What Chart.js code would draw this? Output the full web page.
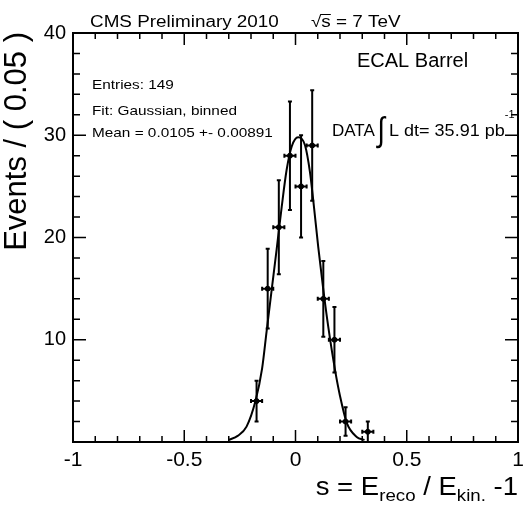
<!DOCTYPE html>
<html lang="en">
<head>
    <meta charset="UTF-8">
    <title>ECAL Barrel energy scale</title>
    <script src="https://cdn.jsdelivr.net/npm/chart.js"></script>
    <style>
        body { margin: 0; background: #ffffff; }
        canvas { display: block; }
    </style>
</head>
<body>
    <canvas id="scaleChart" width="524" height="517"></canvas>

    <script>
        // histogram bins (width 0.05) and counts
        const binCenters = [-0.175, -0.125, -0.075, -0.025, 0.025, 0.075, 0.125, 0.175, 0.225, 0.325];
        const counts     = [4, 15, 21, 28, 25, 29, 14, 10, 2, 1];
        const countErrs  = [2.0, 3.9, 4.6, 5.3, 5.0, 5.4, 3.7, 3.2, 1.4, 1.0];
        const binHalf = 0.025;

        // gaussian fit curve
        const curveX = [-0.30, -0.26, -0.22, -0.18, -0.15, -0.13, -0.107, -0.085, -0.062, -0.04, -0.017, 0.012,
                        0.043, 0.065, 0.08, 0.102, 0.125, 0.147, 0.178, 0.20, 0.23, 0.275, 0.31];
        const curveY = [0.2, 0.6, 1.5, 4.0, 7.2, 10.8, 14.9, 18.8, 23.0, 26.6, 28.9, 29.8,
                        29.0, 26.4, 23.6, 19.1, 14.9, 11.3, 7.0, 4.5, 1.9, 0.5, 0.2];

        const xTicks = [-1, -0.5, 0, 0.5, 1];
        const yTicks = [10, 20, 30, 40];

        const FONT = '"Liberation Sans", Arial, sans-serif';
        Chart.defaults.font.family = FONT;
        Chart.defaults.color = '#000';

        function text(ctx, s, x, y, size, sx) {
            ctx.save();
            ctx.font = size + 'px ' + FONT;
            ctx.translate(x, y);
            ctx.scale(sx || 1, 1);
            ctx.textAlign = 'left';
            ctx.textBaseline = 'alphabetic';
            ctx.fillText(s, 0, 0);
            const w = ctx.measureText(s).width * (sx || 1);
            ctx.restore();
            return w;
        }
        function textWidth(ctx, s, size, sx) {
            ctx.save();
            ctx.font = size + 'px ' + FONT;
            const w = ctx.measureText(s).width * (sx || 1);
            ctx.restore();
            return w;
        }

        const rootStyle = {
            id: 'rootStyle',
            afterDatasetsDraw(chart) {
                const ctx = chart.ctx, xs = chart.scales.x, ys = chart.scales.y;
                ctx.save();
                ctx.strokeStyle = '#000';
                ctx.lineWidth = 2;
                binCenters.forEach((c, i) => {
                    const px = xs.getPixelForValue(c);
                    const py = ys.getPixelForValue(counts[i]);
                    const x0 = xs.getPixelForValue(c - binHalf), x1 = xs.getPixelForValue(c + binHalf);
                    const y0 = ys.getPixelForValue(Math.max(counts[i] - countErrs[i], 0));
                    const y1 = ys.getPixelForValue(counts[i] + countErrs[i]);
                    ctx.beginPath();
                    ctx.moveTo(x0, py); ctx.lineTo(x1, py);
                    ctx.moveTo(px, y0); ctx.lineTo(px, y1);
                    // small end caps
                    ctx.moveTo(x0, py - 2); ctx.lineTo(x0, py + 2);
                    ctx.moveTo(x1, py - 2); ctx.lineTo(x1, py + 2);
                    ctx.moveTo(px - 2, y0); ctx.lineTo(px + 2, y0);
                    ctx.moveTo(px - 2, y1); ctx.lineTo(px + 2, y1);
                    ctx.stroke();
                });
                ctx.restore();
            },
            afterDraw(chart) {
                const ctx = chart.ctx, a = chart.chartArea;
                const xs = chart.scales.x, ys = chart.scales.y;
                ctx.save();
                ctx.strokeStyle = '#000';
                ctx.fillStyle = '#000';

                // frame
                ctx.lineWidth = 2;
                ctx.strokeRect(a.left, a.top, a.right - a.left, a.bottom - a.top);

                // inward ticks on all four sides
                ctx.lineWidth = 1.5;
                ctx.beginPath();
                for (let k = 0; k <= 20; k++) {
                    const v = -1 + k * 0.1;
                    const px = xs.getPixelForValue(v);
                    const len = k % 5 === 0 ? 12 : 6;
                    ctx.moveTo(px, a.bottom); ctx.lineTo(px, a.bottom - len);
                    ctx.moveTo(px, a.top); ctx.lineTo(px, a.top + len);
                }
                for (let k = 0; k <= 20; k++) {
                    const py = ys.getPixelForValue(k * 2);
                    const len = k % 5 === 0 ? 13 : 7;
                    ctx.moveTo(a.left, py); ctx.lineTo(a.left + len, py);
                    ctx.moveTo(a.right, py); ctx.lineTo(a.right - len, py);
                }
                ctx.stroke();

                // y axis title
                ctx.save();
                ctx.font = '31px ' + FONT;
                ctx.translate(26, 32);
                ctx.rotate(-Math.PI / 2);
                ctx.textAlign = 'right';
                ctx.fillText('Events / ( 0.05 )', 0, 0);
                ctx.restore();

                // x axis title with subscripts, right aligned to the frame
                const big = 25, small = 17, sx = 1.1;
                const parts = [['s = E', big, 0], ['reco', small, 6], [' / E', big, 0], ['kin.', small, 6], [' -1', big, 0]];
                let total = 0;
                parts.forEach(p => total += textWidth(ctx, p[0], p[1], sx));
                let cx = 518 - total;
                parts.forEach(p => cx += text(ctx, p[0], cx, 495 + p[2], p[1], sx));

                // header
                text(ctx, 'CMS Preliminary 2010', 90, 27, 16, 1.18);
                const wRoot = text(ctx, '\u221A', 311, 27, 16, 1.18);
                const wS = text(ctx, 's', 311 + wRoot, 27, 16, 1.18);
                ctx.lineWidth = 1;
                ctx.beginPath();
                ctx.moveTo(311 + wRoot - 1, 14.5); ctx.lineTo(311 + wRoot + wS, 14.5);
                ctx.stroke();
                text(ctx, ' = 7 TeV', 311 + wRoot + wS, 27, 16, 1.18);

                // labels inside the frame
                text(ctx, 'ECAL Barrel', 357, 67, 20, 1);
                text(ctx, 'Entries: 149', 92, 89, 13, 1.18);
                text(ctx, 'Fit: Gaussian, binned', 92, 115, 13, 1.18);
                text(ctx, 'Mean = 0.0105 +- 0.00891', 92, 137, 13, 1.18);

                const wData = text(ctx, 'DATA ', 332, 136, 17, 1);
                text(ctx, '\u222B', 332 + wData - 2, 141, 34, 0.8);
                const wRest = text(ctx, 'L dt= 35.91 pb', 389, 136, 17, 1.06);
                text(ctx, '-1', 389 + wRest, 118, 11, 1);

                ctx.restore();
            }
        };

        new Chart(document.getElementById('scaleChart'), {
            type: 'scatter',
            data: {
                datasets: [{
                    label: 'Gaussian fit',
                    data: curveX.map((x, i) => ({ x: x, y: curveY[i] })),
                    showLine: true,
                    borderColor: '#000',
                    borderWidth: 2,
                    pointRadius: 0,
                    cubicInterpolationMode: 'monotone',
                    fill: false
                }, {
                    label: 'Data',
                    data: binCenters.map((c, i) => ({ x: c, y: counts[i] })),
                    pointRadius: 2.5,
                    backgroundColor: '#000',
                    borderColor: '#000'
                }]
            },
            options: {
                responsive: false,
                animation: false,
                layout: { padding: { left: 0, top: 33, right: 0, bottom: 0 } },
                plugins: { legend: { display: false }, tooltip: { enabled: false } },
                scales: {
                    x: {
                        type: 'linear', min: -1, max: 1,
                        afterBuildTicks: s => { s.ticks = xTicks.map(v => ({ value: v })); },
                        afterFit: s => { s.height = 75; s.paddingRight = 6; },
                        grid: { display: false, drawTicks: false },
                        border: { display: false },
                        ticks: { font: { size: 21 }, padding: 6, maxRotation: 0, callback: v => String(v) }
                    },
                    y: {
                        min: 0, max: 40,
                        afterBuildTicks: s => { s.ticks = yTicks.map(v => ({ value: v })); },
                        afterFit: s => { s.width = 73; },
                        grid: { display: false, drawTicks: false },
                        border: { display: false },
                        ticks: { font: { size: 20 }, padding: 7, callback: v => String(v) }
                    }
                }
            },
            plugins: [rootStyle]
        });
    </script>
</body>
</html>
